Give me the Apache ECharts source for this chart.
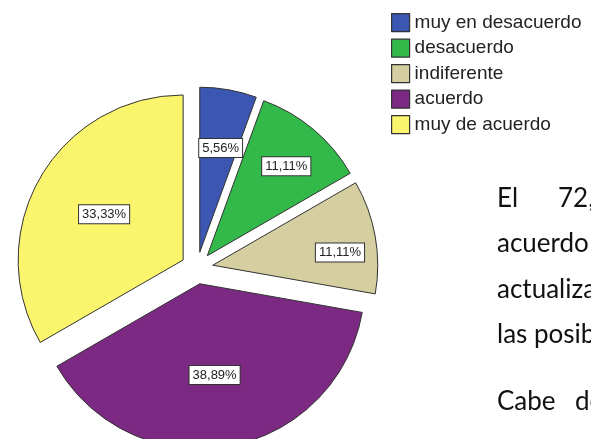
<!DOCTYPE html>
<html>
<head>
<meta charset="utf-8">
<script src="https://cdn.jsdelivr.net/npm/echarts@6/dist/echarts.min.js"></script>
<style>
  html, body { margin: 0; padding: 0; background: #fff; }
  #chart_box { width: 591px; height: 439px; }
</style>
</head>
<body>
<div id="chart_box"></div>
<script>
// categorias y porcentajes del grafico
var categories = ["muy en desacuerdo", "desacuerdo", "indiferente", "acuerdo", "muy de acuerdo"];
var percents = [5.56, 11.11, 11.11, 38.89, 33.33];

var colors = ["#3b57b1", "#33b84a", "#d4cea0", "#7b2982", "#fbf56e"];
// desplazamiento de cada etiqueta (estilo SPSS)
var labelShift = [[6, -20], [24, -24], [43, 2], [0, 7], [-5, -3]];

var myChart = echarts.init(document.getElementById("chart_box"));

var pieData = categories.map(function (name, i) {
  return {
    name: name,
    value: percents[i],
    selected: true,
    itemStyle: { color: colors[i] }
  };
});

// texto del documento a la derecha (recortado)
var sideText = [
  { x: 497, y: 199, t: "El" },
  { x: 558, y: 199, t: "72,22%" },
  { x: 497, y: 244, t: "acuerdo" },
  { x: 497, y: 290, t: "actualiza" },
  { x: 497, y: 335, t: "las posibles" },
  { x: 497, y: 402, t: "Cabe" },
  { x: 575, y: 402, t: "destacar" }
];

var option = {
  backgroundColor: "#fff",
  animation: false,
  legend: {
    orient: "vertical",
    left: 391,
    top: 13,
    padding: 0,
    icon: "rect",
    itemWidth: 18,
    itemHeight: 18,
    itemGap: 6.3,
    selectedMode: false,
    itemStyle: { borderColor: "#333", borderWidth: 1.2 },
    textStyle: {
      fontFamily: "Liberation Sans",
      fontSize: 19,
      lineHeight: 18,
      color: "#222"
    },
    data: categories
  },
  graphic: sideText.map(function (s) {
    return {
      type: "text",
      x: s.x,
      y: s.y,
      silent: true,
      style: {
        text: s.t,
        font: "26px Lato",
        fill: "#111",
        verticalAlign: "middle"
      }
    };
  }),
  series: [
    {
      name: "respuesta",
      type: "pie",
      center: [197, 268],
      radius: 165,
      startAngle: 90,
      clockwise: true,
      selectedMode: "multiple",
      selectedOffset: 16,
      emphasis: { disabled: true },
      itemStyle: { borderColor: "#333", borderWidth: 1 },
      select: { itemStyle: { borderColor: "#333", borderWidth: 1 } },
      label: {
        show: true,
        position: "inside",
        formatter: function (p) {
          return p.value.toFixed(2).replace(".", ",") + "%";
        },
        fontFamily: "Liberation Sans",
        fontSize: 13,
        color: "#222",
        backgroundColor: "#fff",
        borderColor: "#333",
        borderWidth: 1,
        padding: [3, 3, 2, 3]
      },
      labelLine: { show: false },
      labelLayout: function (p) {
        return { dx: labelShift[p.dataIndex][0], dy: labelShift[p.dataIndex][1] };
      },
      data: pieData
    }
  ]
};

myChart.setOption(option);
</script>
</body>
</html>
